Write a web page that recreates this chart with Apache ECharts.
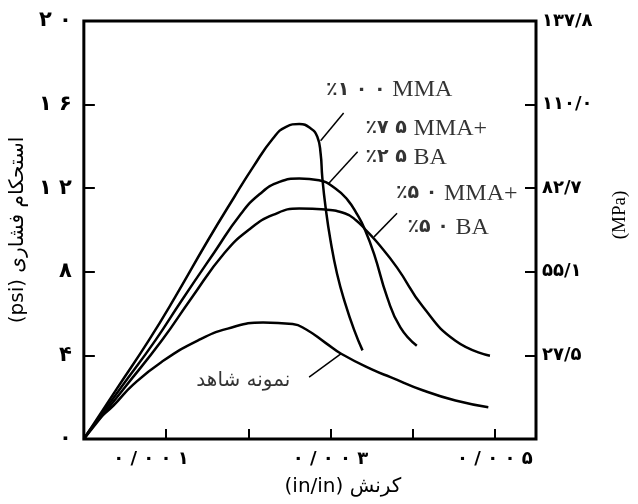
<!DOCTYPE html>
<html>
<head>
<meta charset="utf-8">
<script src="https://cdn.jsdelivr.net/npm/echarts@6/dist/echarts.min.js"></script>
<style>
html,body{margin:0;padding:0;background:#fff;overflow:hidden;}
#c{width:638px;height:504px;}
</style>
</head>
<body>
<div id="c"></div>
<script>
// ---- data (strain, stress in 1000 psi) ----
var mma100 = [[0,0],[0.0004,2.4],[0.00079,4.72],[0.00111,6.79],[0.00151,9.51],[0.00183,11.58],[0.00206,13.02],[0.0023,14.38],[0.00246,14.94],[0.00262,15.07],[0.00276,14.86],[0.00284,14.46],[0.00288,13.66],[0.0029,12.54],[0.00294,11.1],[0.003,9.51],[0.00308,7.91],[0.00318,6.48],[0.00329,5.2],[0.00339,4.24]];
var mma75 = [[0,0],[0.00045,2.45],[0.00087,4.72],[0.00119,6.63],[0.00159,8.95],[0.0019,10.72],[0.00214,11.72],[0.00238,12.3],[0.00262,12.46],[0.00286,12.38],[0.00306,11.99],[0.00321,11.43],[0.00333,10.71],[0.00341,10.1],[0.00353,8.86],[0.00369,6.78],[0.00385,5.34],[0.00405,4.46]];
var mma50 = [[0,0],[0.0005,2.48],[0.00095,4.72],[0.00131,6.75],[0.00171,8.9],[0.00202,10.05],[0.0023,10.72],[0.00262,11.03],[0.00294,10.98],[0.00318,10.79],[0.00331,10.47],[0.00343,10.0],[0.00357,9.4],[0.00381,8.2],[0.00413,6.3],[0.00452,4.7],[0.00494,3.98]];
var control = [[0,0],[0.00016,0.86],[0.00036,1.6],[0.0006,2.6],[0.00095,3.7],[0.00139,4.72],[0.00175,5.28],[0.00218,5.58],[0.00254,5.5],[0.0027,5.25],[0.00294,4.6],[0.00313,4.08],[0.00353,3.28],[0.00373,2.96],[0.00413,2.32],[0.00452,1.84],[0.00492,1.52]];

// ---- tick labels ----
var leftLabels = ['۰','۴','۸','۱۲','۱۶','۲۰'];
var rightLabels = ['','۲۷/۵','۵۵/۱','۸۲/۷','۱۱۰/۰','۱۳۷/۸'];
var xLabels = {1:'۰/۰۰۱', 3:'۰/۰۰۳', 5:'۰/۰۰۵'};

// ---- annotations ----
var leaderLines = [
  [[0.00316,15.6],[0.00288,14.27]],
  [[0.00333,13.74],[0.00298,12.24]],
  [[0.00381,10.8],[0.00353,9.67]],
  [[0.00274,2.96],[0.00313,4.08]]
];
var curveLabels = [
  {value:[0.00294,16.69], d:'٪۱۰۰', t:'MMA'},
  {value:[0.00342,14.87], d:'٪۷۵', t:'MMA+'},
  {value:[0.00342,13.48], d:'٪۲۵', t:'BA'},
  {value:[0.00379,11.76], d:'٪۵۰', t:'MMA+'},
  {value:[0.00393,10.13], d:'٪۵۰', t:'BA'}
];
var controlLabel = {value:[0.00194,2.8], name:'نمونه شاهد'};

var chart = echarts.init(document.getElementById('c'));
function curve(data){
  return {type:'line', data:data, smooth:0.5, symbol:'none', xAxisIndex:0, yAxisIndex:0,
    lineStyle:{color:'#000', width:2.5}, silent:true, animation:false};
}
var persian = 'DejaVu Sans';
chart.setOption({
  animation:false,
  grid:{left:80, right:95, top:21, bottom:65, show:true, borderColor:'#000', borderWidth:3, backgroundColor:'transparent'},
  xAxis:[{
    type:'value', min:0, max:0.0055, interval:0.001,
    axisLine:{show:false},
    splitLine:{show:false},
    axisTick:{inside:true, length:10, lineStyle:{color:'#000', width:2}},
    axisLabel:{margin:11, color:'#000', fontFamily:persian, fontWeight:'bold', fontSize:18,
      formatter:function(v){ var k=Math.round(v/0.001); if(Math.abs(v-k*0.001)>1e-9) return ''; var s=xLabels[k]; if(!s) return ''; s=s.split('').join(' '); return k===1 ? '{a|'+s+'}' : s; },
      rich:{a:{fontFamily:persian, fontWeight:'bold', fontSize:18, color:'#000', padding:[0,30,0,0]}}},
    name:'(in/in) کرنش', nameLocation:'middle', nameGap:38,
    nameTextStyle:{color:'#000', fontFamily:persian, fontSize:20, padding:[0,0,0,66]}
  }],
  yAxis:[{
    type:'value', min:0, max:20, interval:4, position:'left',
    axisLine:{show:false}, splitLine:{show:false},
    axisTick:{inside:true, length:11, lineStyle:{color:'#000', width:2}},
    axisLabel:{margin:12, color:'#000', fontFamily:persian, fontWeight:'bold', fontSize:21,
      formatter:function(v){ return leftLabels[Math.round(v/4)].split('').join(' '); }},
    name:'(psi) استحکام فشاری', nameLocation:'middle', nameGap:46, nameRotate:90,
    nameTextStyle:{color:'#000', fontFamily:persian, fontSize:20}
  },{
    type:'value', min:0, max:20, interval:4, position:'right',
    axisLine:{show:false}, splitLine:{show:false},
    axisTick:{inside:true, length:11, lineStyle:{color:'#000', width:2}},
    axisLabel:{margin:6, color:'#000', fontFamily:persian, fontWeight:'bold', fontSize:18,
      formatter:function(v){ return rightLabels[Math.round(v/4)]; }},
    name:'(MPa)', nameLocation:'middle', nameGap:75, nameRotate:90,
    nameTextStyle:{color:'#000', fontFamily:'Liberation Serif', fontSize:19, padding:[0,0,0,30]}
  }],
  series:[
    curve(mma100), curve(mma75), curve(mma50), curve(control),
    {type:'lines', coordinateSystem:'cartesian2d', xAxisIndex:0, yAxisIndex:0, silent:true,
      lineStyle:{color:'#000', width:1.5, opacity:1},
      data:leaderLines.map(function(c){ return {coords:c}; })},
    {type:'scatter', xAxisIndex:0, yAxisIndex:0, symbolSize:1, silent:true,
      itemStyle:{color:'transparent'},
      data:curveLabels,
      label:{show:true, position:'right', distance:0,
        formatter:function(p){
          var d = p.data.d.charAt(0) + p.data.d.slice(1).split('').join(' ');
          return '{d|'+d+'}  {t|'+p.data.t+'}'; },
        rich:{
          d:{fontFamily:persian, fontWeight:'bold', fontSize:19, color:'#000'},
          t:{fontFamily:'Liberation Serif', fontSize:24, color:'#000'}
        }}},
    {type:'scatter', xAxisIndex:0, yAxisIndex:0, symbolSize:1, silent:true,
      itemStyle:{color:'transparent'},
      data:[controlLabel],
      label:{show:true, position:'inside', formatter:function(p){return p.name;},
        fontFamily:persian, fontSize:20, color:'#000'}}
  ]
});
</script>
</body>
</html>
